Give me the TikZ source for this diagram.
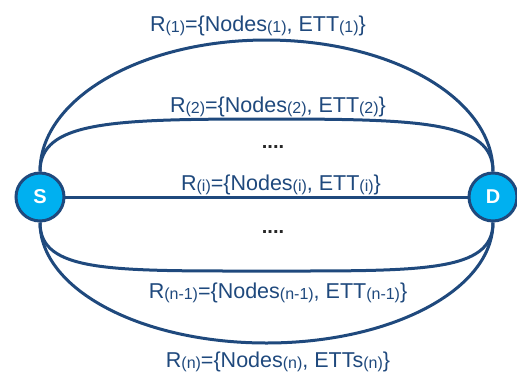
\documentclass[tikz,border=0pt]{standalone}
\usepackage{fontspec}
\setmainfont{Liberation Sans}
\definecolor{routeblue}{HTML}{1F497D}
\definecolor{nodecyan}{HTML}{00B0F0}
\newcommand{\sub}[1]{\raisebox{-1pt}{\fontsize{16}{16}\selectfont(#1)}}
\tikzset{
  endpoint/.style={circle, draw=routeblue, fill=nodecyan, line width=3pt,
    minimum size=48pt, inner sep=0pt, text=white,
    font=\fontsize{20}{20}\selectfont\bfseries},
  route/.style={draw=routeblue, line width=3pt},
  routelabel/.style={anchor=base, text=routeblue, inner sep=0pt,
    font=\fontsize{21.5}{24}\selectfont},
  gapdots/.style={anchor=base, text=black!85, inner sep=0pt,
    font=\fontsize{20}{20}\selectfont\bfseries}
}
\begin{document}
\begin{tikzpicture}[x=1pt, y=-1pt]
\useasboundingbox (0,0) rectangle (517,376);

% turning points of the route curves
\coordinate (p1) at (266.5,40);
\coordinate (p2) at (266.5,119);
\coordinate (pn1) at (266.5,271);
\coordinate (pn) at (266.5,343);

% routes between source and destination
\draw[route] (40,197) -- (493,197);
\path (40,197) node[endpoint] (S) {S};
\path (493,197) node[endpoint] (D) {D};

\draw[route] (S.north) .. controls +(0,-73) and +(-125,0) .. (p1)
                       .. controls +(125,0) and +(0,-73) .. (D.north);
\draw[route] (S.north) .. controls +(0,-50) and +(-156,0) .. (p2)
                       .. controls +(156,0) and +(0,-50) .. (D.north);
\draw[route] (S.south) .. controls +(0,50) and +(-156,0) .. (pn1)
                       .. controls +(156,0) and +(0,50) .. (D.south);
\draw[route] (S.south) .. controls +(0,67) and +(-125,0) .. (pn)
                       .. controls +(125,0) and +(0,67) .. (D.south);

% route labels
\node[routelabel] (l1) at (258,31) {R\sub{1}=\{Nodes\sub{1}, ETT\sub{1}\}};
\node[routelabel] (l2) at (278,112) {R\sub{2}=\{Nodes\sub{2}, ETT\sub{2}\}};
\node[gapdots] (d1) at (273,148) {....};
\node[routelabel] (li) at (281,190) {R\sub{i}=\{Nodes\sub{i}, ETT\sub{i}\}};
\node[gapdots] (d2) at (273,233) {....};
\node[routelabel] (ln1) at (278,298) {R\sub{n-1}=\{Nodes\sub{n-1}, ETT\sub{n-1}\}};
\node[routelabel] (ln) at (278,367) {R\sub{n}=\{Nodes\sub{n}, ETTs\sub{n}\}};
\end{tikzpicture}
\end{document}
